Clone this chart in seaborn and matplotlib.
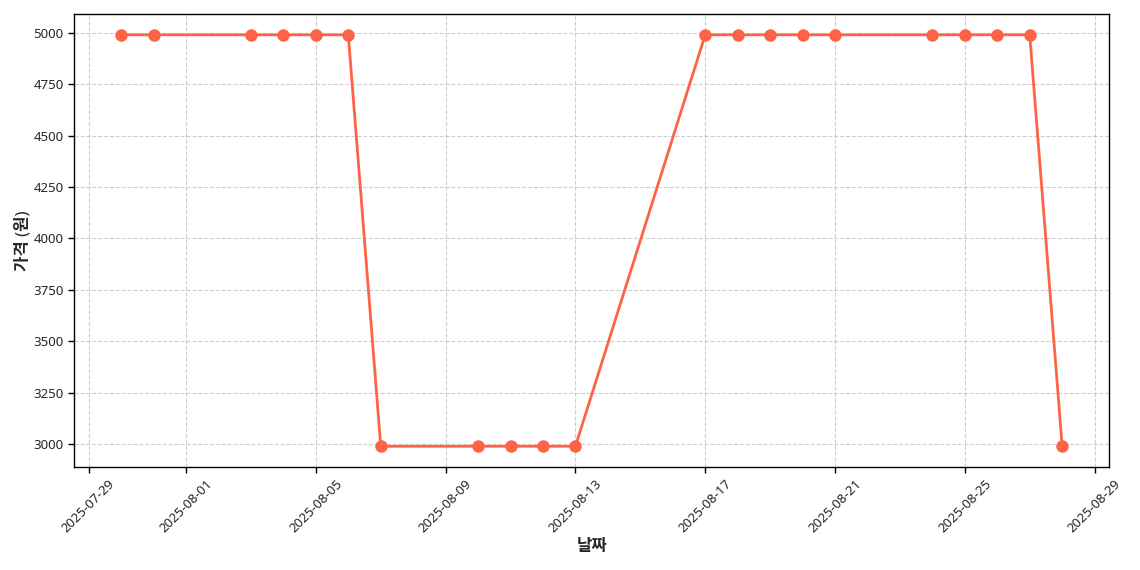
import matplotlib
matplotlib.use("Agg")
import matplotlib.pyplot as plt
import matplotlib.dates as mdates
import seaborn as sns
import pandas as pd

dates = ["2025-07-30", "2025-07-31", "2025-08-03", "2025-08-04", "2025-08-05",
         "2025-08-06", "2025-08-07", "2025-08-10", "2025-08-11", "2025-08-12",
         "2025-08-13", "2025-08-17", "2025-08-18", "2025-08-19", "2025-08-20",
         "2025-08-21", "2025-08-24", "2025-08-25", "2025-08-26", "2025-08-27",
         "2025-08-28"]
prices = [4990, 4990, 4990, 4990, 4990,
          4990, 2990, 2990, 2990, 2990,
          2990, 4990, 4990, 4990, 4990,
          4990, 4990, 4990, 4990, 4990,
          2990]

sns.set_style("white")
plt.rcParams['font.family'] = ['Noto Sans', 'Noto Sans CJK KR', 'DejaVu Sans']
plt.rcParams['axes.unicode_minus'] = False

df = pd.DataFrame({"date": pd.to_datetime(dates), "price": prices})

fig, ax = plt.subplots(figsize=(11.4, 5.7), dpi=100)
sns.lineplot(data=df, x="date", y="price", ax=ax, color="#FF6347",
             marker="o", markersize=9, linewidth=2, markeredgewidth=0)

ax.grid(True, linestyle="--", alpha=0.7, color="#bbbbbb")
for s in ax.spines.values():
    s.set_color("black")
    s.set_linewidth(1)
ax.tick_params(axis="both", which="major", length=4, width=1, color="black",
               bottom=True, left=True, labelsize=9.5)
ax.set_xlabel("날짜", fontsize=12, fontweight="bold", labelpad=3)
ax.set_ylabel("가격 (원)", fontsize=12, fontweight="bold", labelpad=1)
ax.xaxis.set_major_formatter(mdates.DateFormatter("%Y-%m-%d"))
plt.setp(ax.get_xticklabels(), rotation=45)

fig.subplots_adjust(left=0.065, right=0.973, top=0.975, bottom=0.181)
fig.savefig("out.png", dpi=100)
